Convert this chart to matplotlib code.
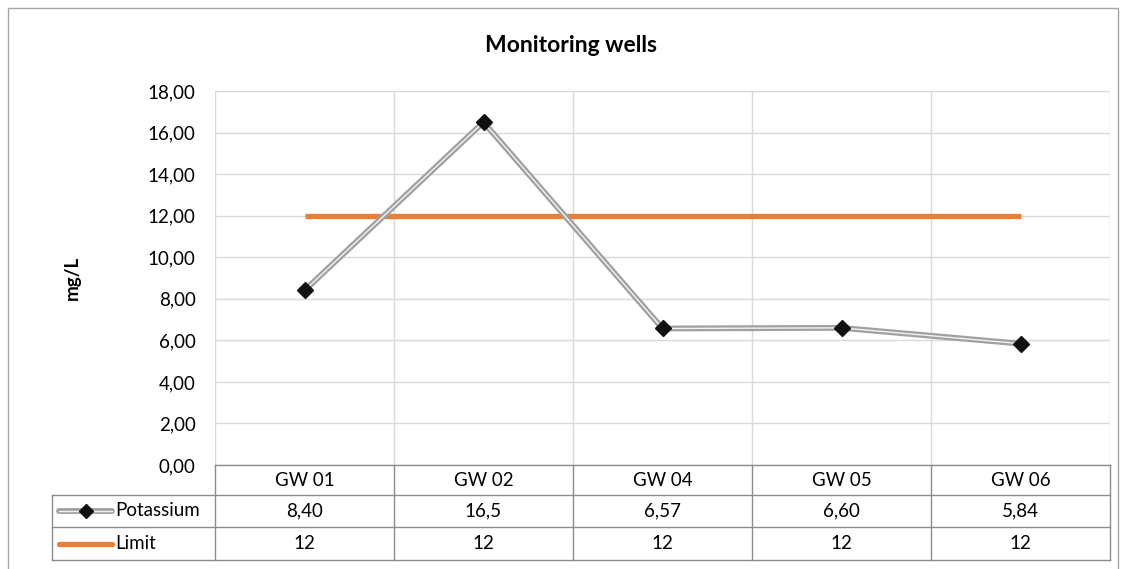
import matplotlib
matplotlib.use("Agg")
import matplotlib.pyplot as plt
from matplotlib.patches import Rectangle
import matplotlib.transforms as mtransforms

categories = ["GW 01", "GW 02", "GW 04", "GW 05", "GW 06"]
potassium = [8.40, 16.5, 6.57, 6.60, 5.84]
potassium_labels = ["8,40", "16,5", "6,57", "6,60", "5,84"]
limit = [12, 12, 12, 12, 12]
limit_labels = ["12", "12", "12", "12", "12"]
yticks = [0, 2, 4, 6, 8, 10, 12, 14, 16, 18]
ytick_labels = ["0,00", "2,00", "4,00", "6,00", "8,00", "10,00", "12,00", "14,00", "16,00", "18,00"]

plt.rcParams['font.family'] = ['Lato', 'DejaVu Sans']
FS = 13.5

W, H = 1132, 569
fig = plt.figure(figsize=(W / 100, H / 100), dpi=100)

# outer border
fig.patches.append(Rectangle((8 / W, -0.01), (1118 - 8) / W, 1 - 8 / H + 0.01,
                             transform=fig.transFigure, fill=False,
                             edgecolor="#a6a6a6", linewidth=1.0))

ax_l, ax_r, ax_t, ax_b = 215, 1110, 91, 465
ax = fig.add_axes([ax_l / W, 1 - ax_b / H, (ax_r - ax_l) / W, (ax_b - ax_t) / H])

n = len(categories)
x = [i + 0.5 for i in range(n)]
ax.set_xlim(0, n)
ax.set_ylim(0, 18)

grid_c = "#d9d9d9"
for yv in yticks:
    ax.axhline(yv, color=grid_c, linewidth=1.0, zorder=0)
for i in range(n + 1):
    ax.axvline(i, color=grid_c, linewidth=1.0, zorder=0)

ax.set_yticks(yticks)
ax.set_yticklabels(ytick_labels, fontsize=FS)
ax.set_xticks([])
ax.tick_params(axis='y', length=0, pad=14)
for s in ax.spines.values():
    s.set_visible(False)

# Limit line
ax.plot(x, limit, color="#ED7D31", linewidth=3.8, solid_capstyle='butt', zorder=3)
# Potassium: gray double line with diamond markers
ax.plot(x, potassium, color="#a0a0a0", linewidth=4.2, zorder=4)
ax.plot(x, potassium, color="#f2f2f2", linewidth=1.0, zorder=5)
ax.plot(x, potassium, linestyle='none', marker='D', markersize=8,
        color="#111111", zorder=6)

fig.text(571 / W, 1 - 46 / H, "Monitoring wells", fontsize=16.5, fontweight='bold',
         ha='center', va='center')
fig.text(72 / W, 1 - 278 / H, "mg/L", fontsize=13.5, fontweight='bold',
         ha='center', va='center', rotation=90)

# Data table
trans = mtransforms.blended_transform_factory(ax.transData, ax.transAxes)
px = (ax_b - ax_t)
def yf(py):
    return (ax_b - py) / px

row_bounds = [465, 495, 527, 560]
tab_c = "#8c8c8c"
legend_left_x = 52
x_leg = (legend_left_x - ax_l) / (ax_r - ax_l) * n

ax.plot([0, n], [yf(465), yf(465)], transform=trans, color=tab_c, lw=1.0, clip_on=False)
for r in row_bounds[1:]:
    ax.plot([x_leg, n], [yf(r), yf(r)], transform=trans, color=tab_c, lw=1.0, clip_on=False)
for i in range(n + 1):
    ax.plot([i, i], [yf(465), yf(560)], transform=trans, color=tab_c, lw=1.0, clip_on=False)
ax.plot([x_leg, x_leg], [yf(495), yf(560)], transform=trans, color=tab_c, lw=1.0, clip_on=False)

ymid = [(row_bounds[k] + row_bounds[k + 1]) / 2 for k in range(3)]
for i, c in enumerate(categories):
    ax.text(x[i], yf(ymid[0]), c, transform=trans, ha='center', va='center', fontsize=FS)
    ax.text(x[i], yf(ymid[1]), potassium_labels[i], transform=trans, ha='center', va='center', fontsize=FS)
    ax.text(x[i], yf(ymid[2]), limit_labels[i], transform=trans, ha='center', va='center', fontsize=FS)

# legend keys
k0 = (59 - ax_l) / (ax_r - ax_l) * n
k1 = (112 - ax_l) / (ax_r - ax_l) * n
kt = (115 - ax_l) / (ax_r - ax_l) * n
ax.plot([k0, k1], [yf(ymid[1])] * 2, transform=trans, color="#a0a0a0", lw=4.2, clip_on=False, solid_capstyle='round')
ax.plot([k0, k1], [yf(ymid[1])] * 2, transform=trans, color="#f2f2f2", lw=1.0, clip_on=False)
ax.plot([(k0 + k1) / 2], [yf(ymid[1])], transform=trans, marker='D', markersize=7,
        color="#111111", clip_on=False, linestyle='none')
ax.plot([k0, k1], [yf(ymid[2])] * 2, transform=trans, color="#ED7D31", lw=3.8, clip_on=False, solid_capstyle='round')
ax.text(kt, yf(ymid[1]), "Potassium", transform=trans, ha='left', va='center', fontsize=FS)
ax.text(kt, yf(ymid[2]), "Limit", transform=trans, ha='left', va='center', fontsize=FS)

fig.savefig("out.png", dpi=100)
